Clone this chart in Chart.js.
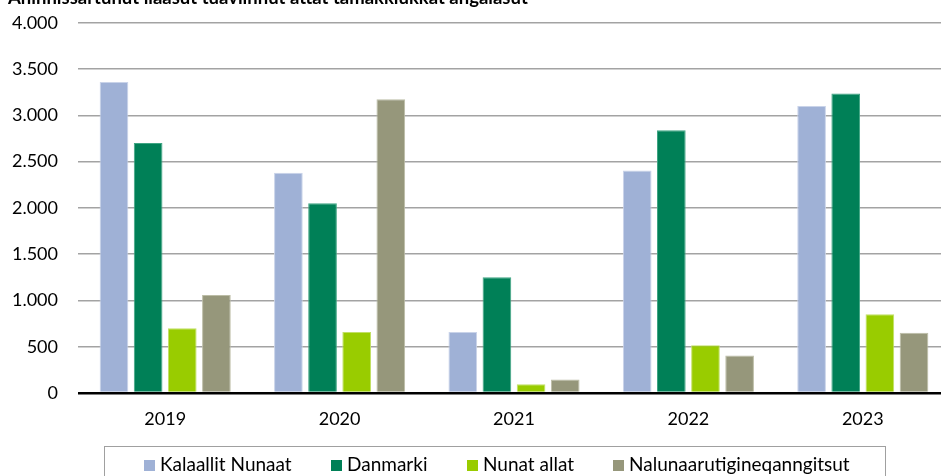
<!DOCTYPE html>
<html>
<head>
<meta charset="utf-8">
<script src="https://cdn.jsdelivr.net/npm/chart.js@4/dist/chart.umd.min.js"></script>
<style>
  html, body { margin: 0; padding: 0; background: #fff; overflow: hidden; width: 941px; height: 476px; }
  #wrap { position: relative; width: 941px; height: 476px; overflow: hidden; }
  #title { position: absolute; left: 8px; top: -14px; font: bold 18.5px Lato, sans-serif; color: #000; white-space: nowrap; }
  #chartBox { position: absolute; left: 0; top: -8px; width: 952px; height: 476px; }
  #legend { position: absolute; left: 104px; top: 446px; width: 782px; height: 40px; border: 1.5px solid #a0a0a0; box-sizing: border-box; font: 19px Lato, sans-serif; }
  .item { position: absolute; top: 5px; white-space: nowrap; }
  .sw { display: inline-block; width: 11px; height: 11px; margin-right: 5px; vertical-align: 0px; }
</style>
</head>
<body>
<div id="wrap">
  <div id="chartBox"><canvas id="myChart" width="952" height="476"></canvas></div>
  <div id="title">Aninnissartunut ilaasut tuaviinnut attat tamakkiukkat angalasut</div>
  <div id="legend"></div>
</div>
<script>
var years = ['2019', '2020', '2021', '2022', '2023'];
var seriesNames = ['Kalaallit Nunaat', 'Danmarki', 'Nunat allat', 'Nalunaarutigineqanngitsut'];
var kalaallitNunaat = [3360, 2380, 660, 2405, 3100];
var danmarki = [2700, 2050, 1250, 2840, 3235];
var nunatAllat = [700, 660, 95, 515, 850];
var nalunaarutigineqanngitsut = [1060, 3175, 145, 405, 650];
var yTicks = [0, 500, 1000, 1500, 2000, 2500, 3000, 3500, 4000];

var colors = ['#9fb1d6', '#008057', '#99cc00', '#96977b'];
var edges = ['#c9d3e9', '#3fa583', '#c2e066', '#bcbda6'];
var values = [kalaallitNunaat, danmarki, nunatAllat, nalunaarutigineqanngitsut];

var datasets = [];
for (var i = 0; i < seriesNames.length; i++) {
    datasets.push({
        label: seriesNames[i],
        data: values[i],
        backgroundColor: colors[i],
        borderColor: edges[i],
        borderWidth: 1,
        barPercentage: 0.84,
        categoryPercentage: 0.783
    });
}

// legend drawn as html so it can get the boxed look
var legendX = [39, 226, 362, 508];
var lg = document.getElementById('legend');
seriesNames.forEach(function (name, i) {
    var d = document.createElement('div');
    d.className = 'item';
    d.style.left = legendX[i] + 'px';
    d.innerHTML = '<span class="sw" style="background:' + colors[i] + '"></span>' + name;
    lg.appendChild(d);
});

var ctx = document.getElementById('myChart').getContext('2d');
var myChart = new Chart(ctx, {
    type: 'bar',
    data: { labels: years, datasets: datasets },
    options: {
        responsive: false,
        animation: false,
        layout: { padding: { top: 15, right: 2, left: 0, bottom: 0 } },
        plugins: { legend: { display: false }, tooltip: { enabled: false } },
        scales: {
            x: {
                grid: { display: false },
                border: { display: false },
                ticks: { color: '#000', font: { family: 'Lato', size: 18 }, padding: 7 },
                afterFit: function (s) { s.height = 75; }
            },
            y: {
                min: 0,
                max: 4000,
                afterBuildTicks: function (s) { s.ticks = yTicks.map(function (v) { return { value: v }; }); },
                border: { display: false },
                grid: {
                    drawTicks: false,
                    color: function (c) { return c.tick && c.tick.value === 0 ? '#000' : '#a3a3a3'; },
                    lineWidth: function (c) { return c.tick && c.tick.value === 0 ? 2.5 : 1.5; }
                },
                ticks: {
                    color: '#000',
                    padding: 20,
                    font: { family: 'Lato', size: 18 },
                    callback: function (v) { return v.toLocaleString('de-DE'); }
                },
                afterFit: function (s) { s.width = 78; }
            }
        }
    }
});
</script>
</body>
</html>
